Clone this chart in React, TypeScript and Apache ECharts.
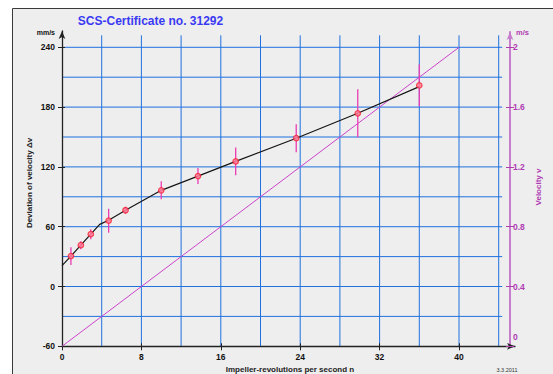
import React, { useEffect, useRef } from 'react';
import * as echarts from 'echarts';

// measured points: impeller revolutions n [1/s], deviation Δv [mm/s], uncertainty [mm/s]
const revs = [0.9, 1.9, 2.9, 4.7, 6.4, 10.0, 13.7, 17.5, 23.6, 29.8, 36.0];
const deviation = [30.5, 41.5, 52.5, 66, 76.5, 96.5, 110.8, 125.5, 148.8, 173.8, 201.8];
const uncertainty = [9, 4, 5, 12, 3.5, 9, 8, 14, 14, 24, 21];

// fitted calibration curve
const fitRevs = [0, 0.9, 1.9, 2.9, 3.8, 4.7, 6.4, 10, 13.7, 17.5, 23.6, 29.8, 36.0];
const fitDeviation = [21, 30.5, 41.5, 52.5, 62.3, 66.5, 76.5, 96.5, 110.8, 125.5, 148.8, 173.8, 200.5];

// velocity v [m/s] vs n
const velRevs = [0, 40];
const velocity = [0, 2];

// grid line positions
const revGridLines = [4, 8, 12, 16, 20, 24, 28, 32, 36, 40, 44];
const devGridLines = [-30, 0, 30, 60, 90, 120, 150, 180, 210, 240];

const FONT = '"Liberation Sans", Arial, Helvetica, sans-serif';
const GRID_BLUE = '#1f70e0';
const MAGENTA = '#b03cb4';

const hid = () => ({ show: false });
const noLine = () => ({ show: false, onZero: false });

function txt(text: string, x: number, y: number, font: string, fill: string, align: string, rotation = 0) {
  return {
    type: 'text', x, y, rotation,
    style: { text, font, fill, align, verticalAlign: 'middle', textAlign: align, textVerticalAlign: 'middle' },
  };
}

export default function App() {
  const ref = useRef<HTMLDivElement>(null);
  useEffect(() => {
    document.body.style.margin = '0';
    const chart = echarts.init(ref.current!, null, { renderer: 'svg' });
    const g = (left: number, top: number, width: number, height: number) => ({ left, top, width, height, containLabel: false, outerBoundsMode: 'none' });
    const tickAxisX = (inside: boolean) => ({
      type: 'value', gridIndex: 1, min: 0, max: 40, interval: 8, z: 3, position: 'bottom',
      axisLine: noLine(), splitLine: hid(),
      axisTick: { show: true, inside, length: inside ? 3 : 4, lineStyle: { color: '#222', width: 1 } },
      axisLabel: inside ? hid() : { show: true, margin: 6, color: '#111', fontSize: 8.5, fontWeight: 'bold', fontFamily: FONT },
    });
    const tickAxisY = (inside: boolean) => ({
      type: 'value', gridIndex: 1, position: 'left', min: -60, max: 240, interval: 60, z: 3,
      axisLine: noLine(), splitLine: hid(),
      axisTick: { show: true, inside, length: inside ? 3 : 4, lineStyle: { color: '#222', width: 1 } },
      axisLabel: inside ? hid() : { show: true, margin: 7, color: '#111', fontSize: 8.5, fontWeight: 'bold', fontFamily: FONT },
    });
    const velAxis = (inside: boolean) => ({
      type: 'value', gridIndex: 4, position: 'right', min: 0, max: 2, interval: 0.4, z: 4,
      axisLine: noLine(), splitLine: hid(),
      axisTick: { show: true, inside, length: 4, lineStyle: { color: MAGENTA, width: 1 } },
      axisLabel: inside ? hid() : {
        show: true, margin: 3, color: MAGENTA, fontSize: 8.5, fontWeight: 'bold', fontFamily: FONT,
        formatter: (v: number) => (v === 0 ? '{z|0}' : String(Math.round(v * 10) / 10)),
        rich: { z: { color: MAGENTA, fontSize: 8.5, fontWeight: 'bold', fontFamily: FONT, padding: [0, 0, 18, 0] } },
      },
    });
    const option: any = {
      animation: false,
      backgroundColor: '#ffffff',
      grid: [
        g(62, 47.3, 436.7, 299), // 0 data
        g(62, 47.3, 397, 299), // 1 black tick labels
        g(62, 31, 453, 315.3), // 2 black axis lines with arrows
        g(62, 32, 448, 314.3), // 3 magenta axis line with arrow
        g(62, 47.3, 448, 299), // 4 magenta ticks and labels
      ],
      xAxis: [
        { type: 'value', gridIndex: 0, min: 0, max: 44, show: false, axisLine: noLine(), splitLine: hid() },
        tickAxisX(false),
        tickAxisX(true),
        {
          type: 'value', gridIndex: 2, min: 0, max: 1, z: 3, position: 'bottom',
          axisTick: hid(), axisLabel: hid(), splitLine: hid(),
          axisLine: { show: true, onZero: false, symbol: ['none', 'arrow'], symbolSize: [5, 8], lineStyle: { color: '#222', width: 1.3 } },
        },
        { type: 'value', gridIndex: 3, min: 0, max: 1, show: false, axisLine: noLine(), splitLine: hid() },
        { type: 'value', gridIndex: 4, min: 0, max: 1, show: false, axisLine: noLine(), splitLine: hid() },
      ],
      yAxis: [
        { type: 'value', gridIndex: 0, position: 'left', min: -60, max: 240, show: false, axisLine: noLine(), splitLine: hid() },
        { type: 'value', gridIndex: 0, position: 'right', min: 0, max: 2, show: false, axisLine: noLine(), splitLine: hid() },
        tickAxisY(false),
        tickAxisY(true),
        {
          type: 'value', gridIndex: 2, position: 'left', min: 0, max: 1, z: 3,
          axisTick: hid(), axisLabel: hid(), splitLine: hid(),
          axisLine: { show: true, onZero: false, symbol: ['none', 'arrow'], symbolSize: [5, 8], lineStyle: { color: '#222', width: 1.3 } },
        },
        {
          type: 'value', gridIndex: 3, position: 'right', min: 0, max: 1, z: 3,
          axisTick: hid(), axisLabel: hid(), splitLine: hid(),
          axisLine: { show: true, onZero: false, symbol: ['none', 'arrow'], symbolSize: [5, 8], lineStyle: { color: '#c77ccc', width: 2 } },
        },
        velAxis(false),
        velAxis(true),
      ],
      series: [
        {
          type: 'custom', name: 'Vertical grid', xAxisIndex: 0, yAxisIndex: 0, z: 1, clip: false, silent: true,
          data: revGridLines.map((v) => [v, -60]),
          encode: { x: 0, y: 1 },
          renderItem: (params: any, api: any) => {
            const lo = api.coord([api.value(0), -60]);
            const hi = api.coord([api.value(0), 240]);
            return {
              type: 'line',
              shape: { x1: lo[0], y1: lo[1], x2: lo[0], y2: hi[1] - 12 },
              style: { stroke: GRID_BLUE, lineWidth: 1 },
            };
          },
        },
        {
          type: 'custom', name: 'Horizontal grid', xAxisIndex: 0, yAxisIndex: 0, z: 1, clip: false, silent: true,
          data: devGridLines.map((v) => [0, v]),
          encode: { x: 0, y: 1 },
          renderItem: (params: any, api: any) => {
            const a = api.coord([0, api.value(1)]);
            const b = api.coord([44, api.value(1)]);
            return {
              type: 'line',
              shape: { x1: a[0], y1: a[1], x2: b[0] + 3.5, y2: a[1] },
              style: { stroke: GRID_BLUE, lineWidth: 1 },
            };
          },
        },
        {
          type: 'line', name: 'Velocity', xAxisIndex: 0, yAxisIndex: 1, z: 4,
          data: velRevs.map((n, i) => [n, velocity[i]]),
          symbol: 'none', lineStyle: { color: '#cc44cc', width: 1 },
        },
        {
          type: 'line', name: 'Fit', xAxisIndex: 0, yAxisIndex: 0, z: 5,
          data: fitRevs.map((n, i) => [n, fitDeviation[i]]),
          symbol: 'none', lineStyle: { color: '#151515', width: 1.2 },
        },
        {
          type: 'custom', name: 'Uncertainty', xAxisIndex: 0, yAxisIndex: 0, z: 6,
          data: revs.map((n, i) => [n, deviation[i] - uncertainty[i], deviation[i] + uncertainty[i]]),
          encode: { x: 0, y: [1, 2] },
          renderItem: (params: any, api: any) => {
            const p1 = api.coord([api.value(0), api.value(1)]);
            const p2 = api.coord([api.value(0), api.value(2)]);
            return {
              type: 'line',
              shape: { x1: p1[0], y1: p1[1], x2: p2[0], y2: p2[1] },
              style: { stroke: '#ec3cb4', lineWidth: 1.3 },
            };
          },
        },
        {
          type: 'scatter', name: 'Measured', xAxisIndex: 0, yAxisIndex: 0, z: 7,
          data: revs.map((n, i) => [n, deviation[i]]),
          symbol: 'circle', symbolSize: 5.5,
          itemStyle: { color: '#ff8096', borderColor: '#f52035', borderWidth: 1.2 },
        },
      ],
      graphic: [
        {
          type: 'rect', z: -10, silent: true,
          shape: { x: 12.5, y: 8.5, width: 600, height: 400 },
          style: { fill: '#eeeeee', stroke: '#3a3a3a', lineWidth: 1 },
        },
        txt('SCS-Certificate no. 31292', 150.5, 21, `bold 12px ${FONT}`, '#3a3af2', 'center'),
        txt('mm/s', 55, 32, `bold 7px ${FONT}`, '#111', 'right'),
        txt('Deviation of velocity Δv', 29, 183, `bold 8px ${FONT}`, '#222', 'center', Math.PI / 2),
        txt('Impeller-revolutions per second n', 290, 369.5, `bold 8px ${FONT}`, '#222', 'center'),
        txt('3.3.2011', 507, 370, `5.5px ${FONT}`, '#333', 'center'),
        txt('m/s', 516, 32.5, `bold 7.5px ${FONT}`, MAGENTA, 'left'),
        txt('Velocity v', 538, 187, `bold 8px ${FONT}`, MAGENTA, 'center', Math.PI / 2),
      ],
    };
    chart.setOption(option);
    return () => chart.dispose();
  }, []);
  return <div ref={ref} style={{ width: 553, height: 374 }} />;
}
